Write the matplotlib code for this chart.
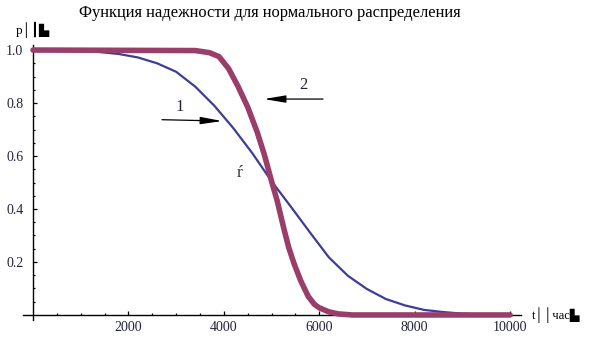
import matplotlib
matplotlib.use("Agg")
import matplotlib.pyplot as plt
from matplotlib.ticker import FixedLocator, NullFormatter

# Reliability curve 1 (wide spread)
t1 = [0, 1000, 1300, 1800, 2200, 2600, 3000, 3400, 3800, 4200, 4600, 5000,
      5400, 5800, 6200, 6600, 7000, 7400, 7800, 8200, 8600, 9000, 9400, 10000]
p1 = [1.0, 0.999, 0.994, 0.985, 0.972, 0.950, 0.918, 0.862, 0.790, 0.705, 0.610, 0.505,
      0.410, 0.313, 0.218, 0.148, 0.098, 0.060, 0.036, 0.019, 0.011, 0.005, 0.002, 0.0]

# Reliability curve 2 (narrow spread)
t2 = [0, 3400, 3700, 3900, 4100, 4300, 4500, 4700, 4850, 5000, 5120, 5260,
      5360, 5470, 5610, 5770, 5900, 6000, 6200, 6400, 6700, 10000]
p2 = [1.0, 0.998, 0.990, 0.975, 0.930, 0.862, 0.785, 0.690, 0.605, 0.505, 0.430, 0.325,
      0.255, 0.195, 0.130, 0.070, 0.040, 0.027, 0.012, 0.004, 0.0, 0.0]

x_ticks = [2000, 4000, 6000, 8000, 10000]
x_tick_labels = ["2000", "4000", "6000", "8000", "10000"]
y_ticks = [0.2, 0.4, 0.6, 0.8, 1.0]
y_tick_labels = ["0.2", "0.4", "0.6", "0.8", "1.0"]

title = "Функция надежности для нормального распределения"

W, H = 612, 344
fig = plt.figure(figsize=(W / 100, H / 100), dpi=100)
fig.patch.set_facecolor("white")

# axes box in pixel units: left 23, right 521, top 45, bottom 320
ax = fig.add_axes([23 / W, (H - 320) / H, (521 - 23) / W, (320 - 45) / H])
ax.set_xlim(-210, 10230)
ax.set_ylim(-0.019, 1.019)

serif = ["Liberation Serif", "DejaVu Serif"]
txt_color = "#22223a"

for side in ("top", "right"):
    ax.spines[side].set_visible(False)
ax.spines["left"].set_position(("data", 0))
ax.spines["bottom"].set_position(("data", 0))
for side in ("left", "bottom"):
    ax.spines[side].set_linewidth(1.0)
    ax.spines[side].set_color("black")

ax.xaxis.set_major_locator(FixedLocator(x_ticks))
ax.yaxis.set_major_locator(FixedLocator(y_ticks))
ax.xaxis.set_minor_locator(FixedLocator([v for v in range(500, 10001, 500) if v % 2000]))
ax.yaxis.set_minor_locator(FixedLocator([round(0.05 * k, 2) for k in range(1, 21) if k % 4]))
ax.set_xticklabels(x_tick_labels)
ax.set_yticklabels(y_tick_labels)
ax.xaxis.set_minor_formatter(NullFormatter())
ax.yaxis.set_minor_formatter(NullFormatter())
ax.tick_params(which="major", direction="in", length=3.2, width=0.9, color="black")
ax.tick_params(which="minor", direction="in", length=1.6, width=0.9, color="black")
ax.tick_params(axis="x", which="major", pad=4)
ax.tick_params(axis="y", which="major", pad=7)
for lab in ax.get_xticklabels() + ax.get_yticklabels():
    lab.set_fontfamily(serif)
    lab.set_fontsize(10)
    lab.set_color(txt_color)

ax.plot(t1, p1, color="#3d3d99", lw=1.6, zorder=3, solid_joinstyle="round")
ax.plot(t2, p2, color="#993d6b", lw=4.0, zorder=4, solid_capstyle="round",
        solid_joinstyle="round")

arrow_style = dict(arrowstyle="-|>,head_length=1.3,head_width=0.22",
                   mutation_scale=10, color="black", lw=0.9, shrinkA=0, shrinkB=0)
ax.annotate("", xy=(3962, 0.732), xytext=(2704, 0.737), arrowprops=arrow_style, zorder=6)
ax.annotate("", xy=(4843, 0.815), xytext=(6080, 0.815), arrowprops=arrow_style, zorder=6)
ax.text(3082, 0.785, "1", fontfamily=serif, fontsize=12, color=txt_color,
        ha="center", va="center")
ax.text(5660, 0.868, "2", fontfamily=serif, fontsize=12, color=txt_color,
        ha="center", va="center")
ax.text(4340, 0.536, "ŕ", fontfamily=serif, fontsize=12.5, color="#3a2a20",
        ha="center", va="center")

fig.text(270 / W, 1 - 13 / H, title, fontfamily=serif, fontsize=11.9,
         color="black", ha="center", va="center")
fig.text(16 / W, 1 - 30 / H, "p│┃▙", fontfamily=serif + ["DejaVu Sans"],
         fontsize=9.5, color="black", ha="left", va="center")
fig.text(532 / W, 1 - 315 / H, "t││час▙", fontfamily=serif + ["DejaVu Sans"],
         fontsize=9, color="black", ha="left", va="center")

fig.savefig("out.png", dpi=100, facecolor="white")
